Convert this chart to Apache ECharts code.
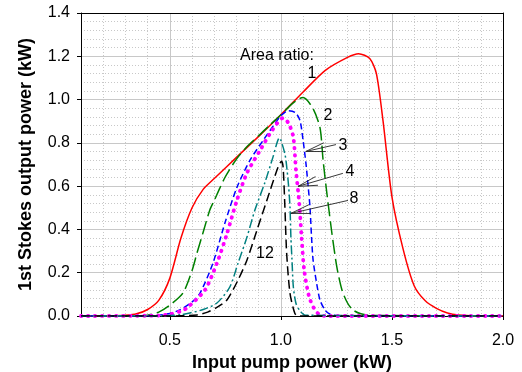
<!DOCTYPE html>
<html>
<head>
<meta charset="utf-8">
<script src="https://cdn.jsdelivr.net/npm/echarts@6/dist/echarts.min.js"></script>
<style>html,body{margin:0;padding:0;background:#fff;}#c{width:522px;height:372px;}</style>
</head>
<body>
<div id="c"></div>
<script>
// ---- data ----
const xTickValues = [0.5, 1.0, 1.5, 2.0];
const xVerticalGrid = [0.5, 1.0, 1.5];

const x1 = [0.1, 0.25, 0.3, 0.35, 0.4, 0.45, 0.5, 0.55, 0.6, 0.65, 0.7, 0.8, 0.9, 1.0, 1.1, 1.2, 1.3, 1.35, 1.4, 1.43, 1.46, 1.5, 1.55, 1.6, 1.65, 1.7, 1.75, 1.8, 1.9, 2.0];
const y1 = [0, 0.001, 0.003, 0.01, 0.03, 0.072, 0.175, 0.36, 0.5, 0.585, 0.635, 0.733, 0.83, 0.93, 1.035, 1.135, 1.195, 1.212, 1.19, 1.12, 0.9, 0.55, 0.31, 0.14, 0.07, 0.035, 0.014, 0.005, 0, 0];

const x2 = [0.1, 0.35, 0.4, 0.45, 0.5, 0.559, 0.6, 0.622, 0.65, 0.68, 0.7, 0.748, 0.8, 0.85, 0.9, 0.95, 1.0, 1.05, 1.08, 1.1, 1.144, 1.176, 1.19, 1.207, 1.23, 1.252, 1.275, 1.3, 1.324, 1.36, 1.4, 2.0];
const y2 = [0, 0, 0.004, 0.018, 0.05, 0.106, 0.21, 0.29, 0.387, 0.49, 0.534, 0.64, 0.725, 0.785, 0.833, 0.882, 0.93, 0.98, 1.003, 1.009, 0.96, 0.87, 0.72, 0.567, 0.38, 0.226, 0.12, 0.06, 0.028, 0.01, 0.003, 0];

const x3 = [0.1, 0.4, 0.45, 0.5, 0.545, 0.6, 0.636, 0.694, 0.748, 0.802, 0.861, 0.919, 0.96, 1.0, 1.033, 1.065, 1.086, 1.1, 1.113, 1.123, 1.131, 1.138, 1.145, 1.161, 1.176, 1.198, 1.22, 1.26, 2.0];
const y3 = [0, 0, 0.004, 0.012, 0.028, 0.065, 0.106, 0.244, 0.43, 0.594, 0.72, 0.81, 0.87, 0.925, 0.949, 0.94, 0.903, 0.811, 0.703, 0.596, 0.503, 0.365, 0.258, 0.151, 0.074, 0.028, 0.009, 0, 0];

const x4 = [0.1, 0.45, 0.5, 0.55, 0.577, 0.658, 0.712, 0.757, 0.802, 0.847, 0.906, 0.96, 1.01, 1.035, 1.056, 1.068, 1.083, 1.093, 1.105, 1.127, 1.153, 1.176, 1.2, 2.0];
const y4 = [0, 0.002, 0.008, 0.022, 0.037, 0.12, 0.244, 0.38, 0.535, 0.66, 0.765, 0.857, 0.915, 0.89, 0.826, 0.672, 0.519, 0.365, 0.212, 0.089, 0.028, 0.005, 0, 0];

const x8 = [0.1, 0.45, 0.5, 0.55, 0.59, 0.65, 0.712, 0.77, 0.807, 0.847, 0.883, 0.928, 0.964, 0.993, 1.018, 1.028, 1.035, 1.041, 1.045, 1.05, 1.056, 1.068, 1.086, 1.11, 2.0];
const y8 = [0, 0, 0.002, 0.006, 0.014, 0.03, 0.06, 0.134, 0.244, 0.364, 0.49, 0.617, 0.733, 0.823, 0.749, 0.672, 0.596, 0.503, 0.365, 0.258, 0.135, 0.058, 0.024, 0.004, 0];

const x12 = [0.1, 0.5, 0.55, 0.622, 0.67, 0.712, 0.757, 0.807, 0.847, 0.892, 0.937, 0.987, 1.003, 1.01, 1.018, 1.026, 1.041, 1.063, 1.08, 2.0];
const y12 = [0, 0, 0.001, 0.005, 0.018, 0.04, 0.074, 0.166, 0.258, 0.396, 0.535, 0.687, 0.715, 0.688, 0.503, 0.289, 0.105, 0.012, 0, 0];

const ratioLabels = ['1', '2', '3', '4', '8', '12'];
const annotationTitle = 'Area ratio:';

// ---- styling / layout (not data) ----
const FONT = "'Liberation Sans', Arial, sans-serif";
const seriesDefs = [
  {name: ratioLabels[0], xs: x1, ys: y1, color: '#FF0000', type: 'solid', width: 1.5, cap: 'butt'},
  {name: ratioLabels[1], xs: x2, ys: y2, color: '#008000', type: [14, 5], width: 1.5, cap: 'butt'},
  {name: ratioLabels[2], xs: x3, ys: y3, color: '#0000FF', type: [6, 3.5], width: 1.5, cap: 'butt'},
  {name: ratioLabels[3], xs: x4, ys: y4, color: '#FF00FF', type: [0.5, 6.5], width: 3.8, cap: 'round'},
  {name: ratioLabels[4], xs: x8, ys: y8, color: '#008080', type: [9, 3, 2, 3], width: 1.5, cap: 'butt'},
  {name: ratioLabels[5], xs: x12, ys: y12, color: '#000000', type: [9, 4.5], width: 1.5, cap: 'butt'}
];

// label positions in data coordinates
const labelPos = [
  {text: annotationTitle, at: [0.816, 1.202], align: 'left'},
  {text: ratioLabels[0], at: [1.14, 1.119]},
  {text: ratioLabels[1], at: [1.212, 0.926]},
  {text: ratioLabels[2], at: [1.279, 0.788]},
  {text: ratioLabels[3], at: [1.311, 0.668]},
  {text: ratioLabels[4], at: [1.329, 0.544]},
  {text: ratioLabels[5], at: [0.928, 0.290]}
];
const arrowPos = [
  {tip: [1.112, 0.760], tail: [1.248, 0.792]},
  {tip: [1.077, 0.599], tail: [1.279, 0.659]},
  {tip: [1.045, 0.474], tail: [1.302, 0.534]}
];

const chart = echarts.init(document.getElementById('c'), null, {renderer: 'canvas'});
const gridGray = '#c8c8c8';

const option = {
  animation: false,
  backgroundColor: '#fff',
  textStyle: {fontFamily: FONT},
  grid: {left: 81, right: 19, top: 13, bottom: 56, containLabel: false, outerBoundsMode: 'none'},
  xAxis: [
    { // main bottom axis
      type: 'value', min: 0.1, max: 2.0, position: 'bottom', z: 1,
      name: 'Input pump power (kW)', nameLocation: 'middle', nameGap: 35,
      nameTextStyle: {fontFamily: FONT, fontSize: 18, fontWeight: 'bold', color: '#000'},
      axisLine: {show: true, onZero: false, lineStyle: {color: '#000', width: 1}},
      axisTick: {show: true, inside: false, length: 4, customValues: xTickValues, lineStyle: {color: '#000'}},
      axisLabel: {show: true, customValues: xTickValues, margin: 17, fontFamily: FONT, fontSize: 16, color: '#000',
        formatter: v => Number(v).toFixed(1)},
      splitLine: {show: false}
    },
    { // minor vertical grid
      type: 'value', min: 0.1, max: 2.0, interval: 0.1, position: 'bottom', z: 0,
      axisLine: {show: false}, axisTick: {show: false}, axisLabel: {show: false},
      splitLine: {show: true, lineStyle: {color: gridGray, width: 1, type: [1, 2]}}
    },
    { // major vertical grid
      type: 'value', min: 0.1, max: 2.0, position: 'bottom', z: 0,
      axisLine: {show: false}, axisTick: {show: false, customValues: xVerticalGrid},
      axisLabel: {show: false, customValues: xVerticalGrid},
      splitLine: {show: true, lineStyle: {color: gridGray, width: 1, type: 'solid'}}
    },
    { // top frame
      type: 'value', min: 0.1, max: 2.0, position: 'top', z: 1,
      axisLine: {show: true, onZero: false, lineStyle: {color: '#000', width: 1}},
      axisTick: {show: false}, axisLabel: {show: false}, splitLine: {show: false}
    }
  ],
  yAxis: [
    { // main left axis
      type: 'value', min: 0, max: 1.4, interval: 0.2, position: 'left', z: 1,
      name: '1st Stokes output power (kW)', nameLocation: 'middle', nameGap: 46,
      nameTextStyle: {fontFamily: FONT, fontSize: 18, fontWeight: 'bold', color: '#000'},
      axisLine: {show: true, onZero: false, lineStyle: {color: '#000', width: 1}},
      axisTick: {show: true, inside: false, length: 4, lineStyle: {color: '#000'}},
      axisLabel: {show: true, margin: 11, fontFamily: FONT, fontSize: 16, color: '#000',
        formatter: v => Number(v).toFixed(1)},
      splitLine: {show: false}
    },
    { // horizontal grid
      type: 'value', min: 0, max: 1.4, interval: 0.2, position: 'left', z: 0,
      axisLine: {show: false}, axisTick: {show: false}, axisLabel: {show: false},
      splitLine: {show: true, lineStyle: {color: gridGray, width: 1, type: 'solid'}},
      minorTick: {show: false, splitNumber: 5},
      minorSplitLine: {show: true, lineStyle: {color: gridGray, width: 1, type: [1, 2]}}
    },
    { // right frame
      type: 'value', min: 0, max: 1.4, position: 'right', z: 1,
      axisLine: {show: true, onZero: false, lineStyle: {color: '#000', width: 1}},
      axisTick: {show: false}, axisLabel: {show: false}, splitLine: {show: false}
    }
  ],
  series: seriesDefs.map(d => ({
    type: 'line', name: d.name, xAxisIndex: 0, yAxisIndex: 0,
    data: d.xs.map((x, i) => [x, d.ys[i]]),
    showSymbol: false, symbol: 'none',
    smooth: 0.25,
    clip: true,
    lineStyle: {color: d.color, width: d.width, type: d.type, cap: d.cap, join: 'round'},
    emphasis: {disabled: true}
  }))
};
chart.setOption(option);

function toPx(p) { return chart.convertToPixel({seriesIndex: 0}, p); }
const graphics = [];
labelPos.forEach(l => {
  const p = toPx(l.at);
  graphics.push({
    type: 'text', x: p[0], y: p[1], z: 10,
    style: {text: l.text, fill: '#000', font: '16px ' + FONT,
      textAlign: l.align || 'center', textVerticalAlign: 'middle'}
  });
});
const BARB = 20, HALF = 13 * Math.PI / 180;
arrowPos.forEach(a => {
  const t = toPx(a.tip), s = toPx(a.tail);
  const ang = Math.atan2(s[1] - t[1], s[0] - t[0]);
  const b1 = [t[0] + BARB * Math.cos(ang + HALF), t[1] + BARB * Math.sin(ang + HALF)];
  const b2 = [t[0] + BARB * Math.cos(ang - HALF), t[1] + BARB * Math.sin(ang - HALF)];
  const ls = {stroke: '#222', lineWidth: 0.9, fill: null};
  graphics.push({type: 'polyline', z: 10, shape: {points: [s, t]}, style: ls});
  graphics.push({type: 'polyline', z: 10, shape: {points: [b1, t, b2]}, style: ls});
});
chart.setOption({graphic: graphics});
</script>
</body>
</html>
